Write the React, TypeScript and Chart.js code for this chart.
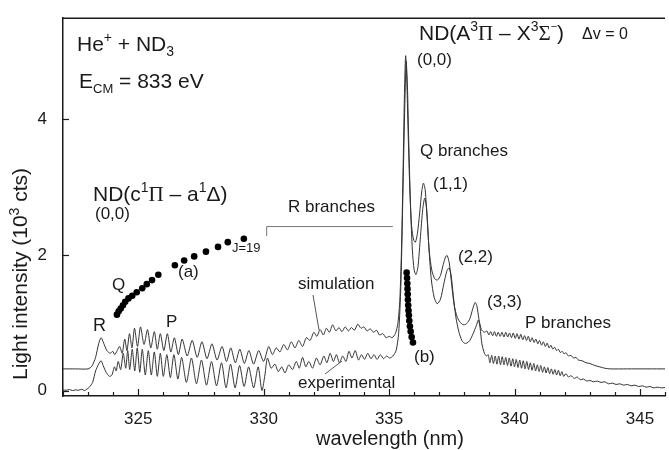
import React, { useEffect, useRef } from "react";
import { Chart, registerables } from "chart.js";
Chart.register(...registerables);

const simWavelength = [
  322.0, 322.5, 323.0, 323.15, 323.3, 323.42, 323.52, 323.62, 323.75, 323.88, 323.98, 324.06, 324.16, 324.26, 324.36, 324.46, 324.55, 324.65, 324.75, 324.85,
  324.97, 325.09, 325.23, 325.37, 325.5, 325.64, 325.76, 325.88, 326.02, 326.16, 326.3, 326.44, 326.6, 326.75, 326.95, 327.15, 327.35, 327.54, 327.74, 327.94,
  328.14, 328.34, 328.52, 328.69, 328.87, 329.05, 329.23, 329.41, 329.6, 329.8, 330.0, 330.2, 330.35, 330.5, 330.65, 330.8, 330.95, 331.1, 331.25, 331.4,
  331.55, 331.7, 331.85, 332.0, 332.12, 332.25, 332.38, 332.5, 332.62, 332.75, 332.88, 333.0, 333.12, 333.25, 333.38, 333.5, 333.62, 333.75, 333.88, 334.0,
  334.12, 334.25, 334.38, 334.5, 334.62, 334.75, 334.88, 335.0, 335.12, 335.25, 335.35, 335.43, 335.5, 335.56, 335.62, 335.66, 335.7, 335.76, 335.83, 335.9,
  335.98, 336.05, 336.13, 336.22, 336.3, 336.37, 336.44, 336.52, 336.6, 336.7, 336.82, 336.93, 337.05, 337.16, 337.26, 337.32, 337.4, 337.5, 337.6, 337.72,
  337.85, 337.98, 338.1, 338.22, 338.33, 338.43, 338.5, 338.58, 338.68, 338.8, 338.9, 338.98, 339.05, 339.13, 339.2, 339.28, 339.35, 339.43, 339.5, 339.58,
  339.65, 339.73, 339.8, 339.88, 339.95, 340.03, 340.1, 340.18, 340.25, 340.33, 340.4, 340.48, 340.55, 340.63, 340.7, 340.78, 340.85, 340.93, 341.0, 341.08,
  341.15, 341.23, 341.3, 341.38, 341.45, 341.53, 341.6, 341.68, 341.75, 341.83, 341.9, 341.98, 342.05, 342.15, 342.25, 342.35, 342.45, 342.55, 342.7, 342.85,
  343.0, 343.2, 343.4, 343.6, 343.8, 344.5, 346.0,
];
const simIntensity = [
  0.32, 0.32, 0.32, 0.36, 0.49, 0.69, 0.78, 0.7, 0.59, 0.55, 0.58, 0.53, 0.59, 0.65, 0.55, 0.76, 0.59, 0.84, 0.63, 0.92,
  0.65, 0.94, 0.68, 0.9, 0.63, 0.87, 0.61, 0.84, 0.59, 0.84, 0.57, 0.78, 0.53, 0.76, 0.51, 0.74, 0.49, 0.72, 0.47, 0.69,
  0.45, 0.65, 0.43, 0.63, 0.41, 0.61, 0.4, 0.59, 0.39, 0.59, 0.43, 0.65, 0.53, 0.63, 0.57, 0.68, 0.6, 0.72, 0.63, 0.74,
  0.65, 0.78, 0.74, 0.86, 0.8, 0.9, 0.82, 0.92, 0.86, 0.97, 0.88, 0.93, 0.87, 0.94, 0.88, 0.93, 0.89, 0.98, 0.92, 0.94,
  0.88, 0.91, 0.86, 0.89, 0.82, 0.84, 0.78, 0.8, 0.78, 0.84, 0.99, 1.35, 2.16, 3.29, 4.51, 4.94, 4.66, 3.8, 2.93, 2.42,
  2.22, 2.19, 2.32, 2.62, 2.93, 3.06, 2.96, 2.52, 2.06, 1.78, 1.65, 1.63, 1.7, 1.86, 1.98, 1.99, 1.88, 1.55, 1.25, 1.08,
  1.0, 0.97, 0.99, 1.06, 1.2, 1.3, 1.25, 1.06, 0.9, 0.86, 0.88, 0.82, 0.87, 0.81, 0.87, 0.8, 0.86, 0.8, 0.86, 0.79,
  0.86, 0.79, 0.85, 0.78, 0.85, 0.77, 0.84, 0.76, 0.83, 0.75, 0.81, 0.74, 0.8, 0.72, 0.78, 0.71, 0.76, 0.69, 0.74, 0.67,
  0.72, 0.65, 0.7, 0.63, 0.67, 0.61, 0.64, 0.59, 0.61, 0.56, 0.58, 0.54, 0.56, 0.51, 0.52, 0.48, 0.49, 0.45, 0.44, 0.41,
  0.4, 0.37, 0.35, 0.33, 0.32, 0.32, 0.32,
];
const expWavelength = [
  322.0, 322.12, 322.25, 322.38, 322.5, 322.62, 322.75, 322.85, 322.95, 323.05, 323.18, 323.3, 323.42, 323.52, 323.6, 323.72, 323.85, 323.95, 324.05, 324.12,
  324.2, 324.3, 324.4, 324.5, 324.58, 324.66, 324.76, 324.86, 324.96, 325.06, 325.16, 325.28, 325.4, 325.52, 325.64, 325.76, 325.88, 326.0, 326.14, 326.28,
  326.42, 326.58, 326.73, 326.92, 327.12, 327.32, 327.52, 327.72, 327.92, 328.12, 328.32, 328.5, 328.68, 328.86, 329.04, 329.22, 329.4, 329.6, 329.78, 329.93,
  330.05, 330.15, 330.3, 330.45, 330.58, 330.72, 330.85, 331.0, 331.15, 331.3, 331.42, 331.55, 331.68, 331.8, 331.95, 332.1, 332.25, 332.4, 332.52, 332.65,
  332.78, 332.9, 333.02, 333.15, 333.28, 333.4, 333.52, 333.65, 333.78, 333.9, 334.02, 334.15, 334.28, 334.4, 334.52, 334.65, 334.78, 334.9, 335.02, 335.15,
  335.28, 335.38, 335.47, 335.55, 335.62, 335.68, 335.73, 335.79, 335.86, 335.93, 336.0, 336.07, 336.15, 336.25, 336.34, 336.42, 336.5, 336.58, 336.68, 336.8,
  336.92, 337.05, 337.18, 337.3, 337.39, 337.47, 337.56, 337.66, 337.78, 337.9, 338.0, 338.1, 338.22, 338.35, 338.48, 338.56, 338.63, 338.7, 338.8, 338.88,
  338.95, 339.02, 339.09, 339.16, 339.23, 339.3, 339.37, 339.44, 339.51, 339.58, 339.65, 339.72, 339.79, 339.86, 339.93, 340.0, 340.07, 340.14, 340.21, 340.28,
  340.35, 340.42, 340.49, 340.56, 340.63, 340.7, 340.77, 340.84, 340.91, 340.98, 341.05, 341.12, 341.19, 341.26, 341.33, 341.4, 341.47, 341.54, 341.61, 341.68,
  341.75, 341.82, 341.89, 341.96, 342.05, 342.15, 342.25, 342.38, 342.5, 342.62, 342.75, 342.88, 343.0, 343.15, 343.3, 343.45, 343.6, 343.75, 343.9, 344.05,
  344.2, 344.35, 344.5, 344.65, 344.8, 344.95, 345.1, 345.25, 345.4, 345.55, 345.7, 345.85, 346.0,
];
const expIntensity = [
  0.01, 0.005, 0.015, 0.0, 0.01, 0.005, 0.02, 0.0, 0.02, 0.05, 0.12, 0.29, 0.39, 0.44, 0.37, 0.27, 0.21, 0.23, 0.35, 0.29,
  0.43, 0.31, 0.55, 0.33, 0.59, 0.31, 0.61, 0.29, 0.63, 0.27, 0.61, 0.23, 0.59, 0.23, 0.57, 0.21, 0.55, 0.21, 0.53, 0.19,
  0.53, 0.17, 0.49, 0.12, 0.48, 0.1, 0.45, 0.08, 0.43, 0.07, 0.41, 0.04, 0.39, 0.04, 0.37, 0.06, 0.35, 0.04, 0.35, 0.0,
  0.23, 0.48, 0.33, 0.39, 0.28, 0.35, 0.26, 0.38, 0.31, 0.43, 0.33, 0.49, 0.35, 0.43, 0.33, 0.48, 0.38, 0.51, 0.41, 0.55,
  0.43, 0.53, 0.41, 0.51, 0.43, 0.58, 0.48, 0.59, 0.45, 0.53, 0.46, 0.55, 0.47, 0.53, 0.46, 0.53, 0.47, 0.51, 0.48, 0.51,
  0.59, 0.84, 1.55, 2.88, 4.1, 4.86, 4.51, 3.59, 2.67, 2.06, 1.78, 1.71, 1.82, 2.27, 2.67, 2.84, 2.67, 2.16, 1.65, 1.37,
  1.28, 1.35, 1.57, 1.76, 1.81, 1.71, 1.4, 1.09, 0.87, 0.74, 0.7, 0.7, 0.74, 0.84, 0.96, 1.04, 0.92, 0.69, 0.55, 0.51,
  0.53, 0.41, 0.52, 0.4, 0.51, 0.39, 0.51, 0.38, 0.5, 0.38, 0.49, 0.37, 0.48, 0.36, 0.47, 0.35, 0.46, 0.34, 0.45, 0.33,
  0.44, 0.32, 0.43, 0.31, 0.41, 0.3, 0.4, 0.29, 0.38, 0.28, 0.37, 0.27, 0.35, 0.26, 0.34, 0.25, 0.32, 0.24, 0.31, 0.23,
  0.3, 0.22, 0.28, 0.21, 0.25, 0.2, 0.22, 0.18, 0.2, 0.16, 0.17, 0.14, 0.15, 0.13, 0.14, 0.12, 0.13, 0.1, 0.11, 0.09,
  0.1, 0.08, 0.09, 0.07, 0.08, 0.06, 0.07, 0.05, 0.06, 0.04, 0.05, 0.04, 0.045,
];
// rotational line positions, Q branch of ND(c-a), J = 1..19
const qLineWavelength = [
  324.15, 324.22, 324.3, 324.39, 324.48, 324.61, 324.76, 324.94, 325.16, 325.34, 325.55, 325.8, 326.46, 326.83, 327.23, 327.7, 328.18, 328.57, 329.21,
];
const qLineIntensity = [
  1.12, 1.17, 1.21, 1.26, 1.31, 1.36, 1.4, 1.45, 1.51, 1.57, 1.63, 1.71, 1.85, 1.92, 1.98, 2.05, 2.12, 2.19, 2.24,
];
const bLineWavelength = [
  335.7, 335.715, 335.727, 335.735, 335.743, 335.751, 335.762, 335.774, 335.79, 335.806, 335.83, 335.861, 335.901, 335.952,
];
const bLineIntensity = [
  1.74, 1.66, 1.58, 1.5, 1.42, 1.34, 1.26, 1.18, 1.11, 1.03, 0.95, 0.87, 0.79, 0.71,
];
const xTickLabels = [325, 330, 335, 340, 345];
const yTickLabels = [0, 2, 4];

const SANS = '"Liberation Sans", Arial, sans-serif';
const SERIF = '"Liberation Serif", "DejaVu Serif", serif';
const INK = "#1a1a1a";

type Seg = { t: string; s: number; dy: number; f: string };
const T = (t: string, s: number, dy = 0, f = SANS): Seg => ({ t, s, dy, f });

const annotations: { x: number; y: number; segs: Seg[] }[] = [
  { x: 77, y: 51, segs: [T("He", 21), T("+", 14, -9), T(" + ND", 21), T("3", 14, 5)] },
  { x: 79, y: 88, segs: [T("E", 21), T("CM", 13, 5), T(" = 833 eV", 21)] },
  { x: 419, y: 40, segs: [T("ND(A", 21), T("3", 14, -9), T("Π", 21, 0, SERIF), T(" – X", 21), T("3", 14, -9), T("Σ", 21, 0, SERIF), T("−", 11, -10), T(")", 21)] },
  { x: 582, y: 39, segs: [T("Δv = 0", 16)] },
  { x: 417, y: 65, segs: [T("(0,0)", 17)] },
  { x: 420, y: 156, segs: [T("Q branches", 17)] },
  { x: 433, y: 189, segs: [T("(1,1)", 17)] },
  { x: 458, y: 262, segs: [T("(2,2)", 17)] },
  { x: 487, y: 307, segs: [T("(3,3)", 17)] },
  { x: 525, y: 328, segs: [T("P branches", 17)] },
  { x: 414, y: 362, segs: [T("(b)", 17)] },
  { x: 298, y: 289, segs: [T("simulation", 17)] },
  { x: 298, y: 388, segs: [T("experimental", 17)] },
  { x: 288, y: 212, segs: [T("R branches", 17)] },
  { x: 93, y: 201, segs: [T("ND(c", 21), T("1", 14, -9), T("Π", 21, 0, SERIF), T(" – a", 21), T("1", 14, -9), T("Δ", 21), T(")", 21)] },
  { x: 95, y: 219, segs: [T("(0,0)", 17)] },
  { x: 232, y: 252, segs: [T("J=19", 13)] },
  { x: 178, y: 277, segs: [T("(a)", 17)] },
  { x: 112, y: 290, segs: [T("Q", 17)] },
  { x: 93, y: 331, segs: [T("R", 18)] },
  { x: 166, y: 327, segs: [T("P", 17)] },
];

function segWidth(ctx: CanvasRenderingContext2D, segs: Seg[]) {
  let w = 0;
  for (const s of segs) {
    ctx.font = `${s.s}px ${s.f}`;
    w += ctx.measureText(s.t).width;
  }
  return w;
}
function drawSegs(ctx: CanvasRenderingContext2D, x: number, y: number, segs: Seg[]) {
  let cx = x;
  for (const s of segs) {
    ctx.font = `${s.s}px ${s.f}`;
    ctx.fillText(s.t, cx, y + s.dy);
    cx += ctx.measureText(s.t).width;
  }
}

const overlay = {
  id: "overlay",
  afterDraw(chart: any) {
    const { ctx, chartArea: a, scales } = chart;
    const x = scales.x;
    const y = scales.y;
    ctx.save();
    ctx.strokeStyle = INK;
    ctx.lineWidth = 1.5;
    ctx.beginPath();
    ctx.moveTo(a.left, a.top);
    ctx.lineTo(a.right, a.top);
    ctx.stroke();
    ctx.lineWidth = 1.2;
    for (let v = Math.ceil(x.min); v <= x.max; v++) {
      const px = Math.round(x.getPixelForValue(v)) + 0.5;
      const len = v % 5 === 0 ? 7 : 4;
      ctx.beginPath();
      ctx.moveTo(px, a.bottom);
      ctx.lineTo(px, a.bottom - len);
      ctx.stroke();
    }
    for (const v of yTickLabels) {
      const py = Math.round(y.getPixelForValue(v)) + 0.5;
      ctx.beginPath();
      ctx.moveTo(a.left, py);
      ctx.lineTo(a.left + 6, py);
      ctx.stroke();
    }
    // R branches bracket
    ctx.strokeStyle = "#777";
    ctx.lineWidth = 1;
    const bx0 = x.getPixelForValue(330.12);
    const bx1 = x.getPixelForValue(335.15);
    const by0 = y.getPixelForValue(2.42);
    const by1 = y.getPixelForValue(2.28);
    ctx.beginPath();
    ctx.moveTo(bx0, by1);
    ctx.lineTo(bx0, by0);
    ctx.lineTo(bx1, by0);
    ctx.stroke();
    // pointers
    ctx.strokeStyle = "#555";
    ctx.beginPath();
    ctx.moveTo(313, 295);
    ctx.lineTo(319, 330);
    ctx.moveTo(325, 374);
    ctx.lineTo(342, 361);
    ctx.stroke();

    ctx.fillStyle = INK;
    ctx.textBaseline = "alphabetic";
    ctx.textAlign = "left";
    for (const an of annotations) drawSegs(ctx, an.x, an.y, an.segs);

    // axis titles
    const xt = [T("wavelength (nm)", 20)];
    drawSegs(ctx, 390 - segWidth(ctx, xt) / 2, 445, xt);
    const yt = [T("Light intensity (10", 21), T("3", 14, -8), T(" cts)", 21)];
    ctx.translate(27, 274);
    ctx.rotate(-Math.PI / 2);
    drawSegs(ctx, -segWidth(ctx, yt) / 2, 0, yt);
    ctx.restore();
  },
};

export default function App() {
  const ref = useRef<HTMLCanvasElement>(null);
  useEffect(() => {
    document.body.style.margin = "0";
    const toPts = (xs: number[], ys: number[]) => xs.map((v, i) => ({ x: v, y: ys[i] }));
    const chart = new Chart(ref.current!, {
      type: "line",
      data: {
        datasets: [
          {
            type: "scatter",
            data: toPts(qLineWavelength, qLineIntensity),
            pointRadius: 3.3,
            pointBackgroundColor: "#000",
            pointBorderWidth: 0,
            order: 0,
          } as any,
          {
            type: "scatter",
            data: toPts(bLineWavelength, bLineIntensity),
            pointRadius: 3.3,
            pointBackgroundColor: "#000",
            pointBorderWidth: 0,
            order: 0,
          } as any,
          {
            data: toPts(simWavelength, simIntensity),
            borderColor: "#333",
            borderWidth: 1,
            pointRadius: 0,
            tension: 0.25,
            order: 1,
          },
          {
            data: toPts(expWavelength, expIntensity),
            borderColor: "#333",
            borderWidth: 1,
            pointRadius: 0,
            tension: 0.25,
            order: 1,
          },
        ],
      },
      options: {
        animation: false,
        responsive: true,
        maintainAspectRatio: false,
        layout: { padding: { top: 8, right: 0, left: 0, bottom: 0 } },
        plugins: { legend: { display: false }, tooltip: { enabled: false } },
        scales: {
          x: {
            type: "linear",
            min: 322,
            max: 346,
            afterBuildTicks: (s: any) => {
              s.ticks = xTickLabels.map((v) => ({ value: v }));
            },
            afterFit: (s: any) => {
              s.height = 54;
            },
            grid: { display: false },
            border: { display: true, color: INK, width: 1.5 },
            ticks: { color: INK, font: { family: SANS, size: 17 }, padding: 5, maxRotation: 0, autoSkip: false },
          },
          y: {
            type: "linear",
            min: -0.08,
            max: 5.494,
            afterBuildTicks: (s: any) => {
              s.ticks = yTickLabels.map((v) => ({ value: v }));
            },
            afterFit: (s: any) => {
              s.width = 63;
            },
            grid: { display: false },
            border: { display: true, color: INK, width: 1.5 },
            ticks: { color: INK, font: { family: SANS, size: 17 }, padding: 8 },
          },
        },
      },
      plugins: [overlay],
    });
    return () => chart.destroy();
  }, []);
  return (
    <div style={{ width: 669, height: 450, position: "relative" }}>
      <canvas ref={ref} />
    </div>
  );
}
